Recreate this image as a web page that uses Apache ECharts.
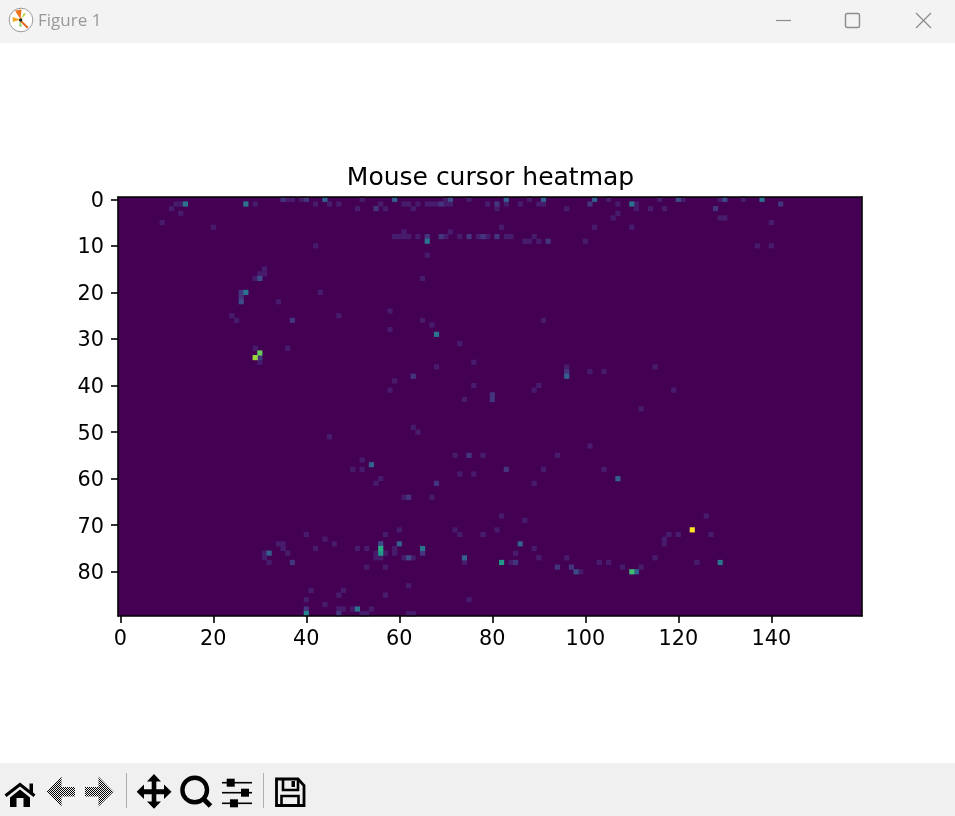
<!DOCTYPE html>
<html>
<head>
<meta charset="utf-8">
<title>Mouse cursor heatmap</title>
<style>html,body{margin:0;padding:0;background:#fff;overflow:hidden}#c{width:955px;height:816px}</style>
<script src="https://cdn.jsdelivr.net/npm/echarts@6/dist/echarts.min.js"></script>
</head>
<body>
<div id="c"></div>
<script>
const chartTitle = 'Mouse cursor heatmap';
const windowTitle = 'Figure 1';
const columnCount = 160;
const rowCount = 90;
const maxCount = 13;
// cells as [column, row], grouped by their count
const cellsCount1 = [
[36,0],[37,0],[39,0],[52,0],[70,0],[75,0],[88,0],[105,0],[116,0],[121,0],[129,0],[134,0],
[12,1],[13,1],[29,1],[42,1],[45,1],[47,1],[56,1],[61,1],[62,1],[64,1],[66,1],[67,1],[68,1],[70,1],[71,1],[79,1],[83,1],[86,1],[90,1],[91,1],[107,1],[111,1],
[11,2],[51,2],[57,2],[63,2],[81,2],[96,2],[111,2],[114,2],[117,2],
[13,3],[107,3],[106,4],[129,4],[130,4],[9,5],[140,5],[20,6],[82,6],[102,6],[110,6],[61,7],[71,7],
[59,8],[60,8],[61,8],[62,8],[64,8],[70,8],[73,8],[77,8],[79,8],[83,8],[84,8],[89,8],
[87,9],[88,9],[90,9],[100,9],[42,10],[137,10],[140,10],[66,12],[31,15],[30,16],[31,16],[29,17],[65,17],
[43,20],[34,22],[58,24],[24,25],[47,25],[25,26],[65,26],[91,26],[67,27],[58,28],[73,31],[29,32],[36,32],
[30,35],[76,35],[68,36],[96,36],[115,36],[101,37],[104,37],[59,39],[76,40],[90,40],[58,41],[89,41],[119,41],[74,43],[112,45]
];
const cellsCount1Lower = [
[63,49],[64,50],[45,51],[101,53],[72,55],[78,55],[94,55],[52,56],[50,58],[52,58],[91,58],[104,58],[73,59],[76,59],[56,60],
[55,61],[89,61],[61,64],[67,64],[82,68],[126,68],[87,69],[60,71],[72,71],[81,71],
[40,72],[57,72],[73,72],[78,72],[118,72],[120,72],[127,72],[44,73],[117,73],[34,74],[35,74],[46,74],[117,74],
[35,75],[42,75],[51,75],[53,75],[59,75],[89,75],[31,76],[36,76],[55,76],[57,76],[59,76],[85,76],
[31,77],[55,77],[56,77],[61,77],[63,77],[90,77],[96,77],[115,77],[32,78],[74,78],[84,78],[103,78],[105,78],[124,78],
[53,79],[57,79],[108,79],[112,79],[99,80],[62,83],[41,84],[48,84],[47,85],[57,85],[40,86],[75,86],[44,87],
[47,88],[48,88],[50,88],[54,88],[52,89],[53,89],[62,89],[63,89]
];
const cellsCount2 = [
[35,0],[40,0],[69,1],[81,1],[101,1],[142,1],[55,2],[128,2],[66,8],[69,8],[75,8],[78,8],[81,8],[92,9],
[26,20],[26,21],[37,26],[30,34],[96,37],[63,38],[80,42],[80,43],[75,55],[83,58],[68,61],[62,64],
[65,76],[37,78],[85,78],[94,79],[97,79],[40,88],[47,89]
];
const cellsCount3 = [[71,0],[120,0],[130,0],[30,17],[26,22],[56,74],[62,77],[98,80]];
const cellsCount4 = [[44,0],[59,0],[83,0],[91,0],[102,0],[96,38],[54,57],[107,60],[60,74],[86,74],[32,76],[74,77],[111,80]];
const cellsCount5 = [[138,0],[14,1],[27,1],[110,1],[66,9],[27,20],[68,29],[65,75],[129,78],[51,88]];
const cellsCount6 = [[40,89]];
const cellsCount7 = [[56,76],[82,78]];
const cellsCount8 = [[56,75]];
const cellsCount9 = [[110,80]];
const cellsCount10 = [[30,33]];
const cellsCount11 = [[29,34]];
const cellsCount13 = [[123,71]];
const viridis = ['#440154','#482475','#414487','#355f8d','#2a788e','#21918c','#22a884','#44bf70','#7ad151','#bddf26','#fde725'];

const countGroups = [
  [1, cellsCount1], [1, cellsCount1Lower], [2, cellsCount2], [3, cellsCount3], [4, cellsCount4],
  [5, cellsCount5], [6, cellsCount6], [7, cellsCount7], [8, cellsCount8], [9, cellsCount9],
  [10, cellsCount10], [11, cellsCount11], [13, cellsCount13]
];
const columns = Array.from({length: columnCount}, (_, i) => String(i));
const rows = Array.from({length: rowCount}, (_, i) => String(i));
// cells with a zero count show the grid's background, which is the colour of zero
const heatData = [];
countGroups.forEach(([n, cells]) => cells.forEach(([c, r]) => heatData.push([c, r, n])));

// ---- window chrome, drawn with graphic elements
const chromeStroke = '#8c8c8c';
const ink = '#000';
const G = [];
const rect = (x, y, w, h, fill, extra) => G.push(Object.assign({type:'rect', silent:true, z:10, shape:{x, y, width:w, height:h}, style:{fill}}, extra||{}));
const line = (x1, y1, x2, y2, stroke, lineWidth) => G.push({type:'line', silent:true, z:11, shape:{x1,y1,x2,y2}, style:{stroke, lineWidth}});
const poly = (points, fill) => G.push({type:'polygon', silent:true, z:11, shape:{points}, style:{fill}});
const circ = (cx, cy, r, fill, stroke, lineWidth) => G.push({type:'circle', silent:true, z:11, shape:{cx,cy,r}, style:{fill, stroke, lineWidth}});

// the toolbar's disabled arrows are a black checker dither
const ditherCanvas = document.createElement('canvas');
ditherCanvas.width = ditherCanvas.height = 2;
const ditherCtx = ditherCanvas.getContext('2d');
ditherCtx.fillStyle = '#000';
ditherCtx.fillRect(0, 0, 1, 1);
ditherCtx.fillRect(1, 1, 1, 1);
const dither = {image: ditherCanvas, repeat: 'repeat'};

rect(0, 0, 955, 43, '#f3f3f3');
rect(0, 763, 955, 53, '#f0f0f0');
// app icon
circ(21, 20, 11.8, '#fff', '#9a9a9a', 1);
poly([[20.5,19.5],[12.5,17],[12.8,22]], '#f5a623');
poly([[20.5,19.5],[15,10.5],[21.5,9.5]], '#f0741f');
poly([[20.5,19.5],[28.5,27],[27,28.5],[19.5,21]], '#e8641b');
poly([[20.5,19.5],[24,13],[26,14]], '#b5d334');
poly([[20,20],[19,26.5],[22,26.5]], '#8fd16a');
circ(20.7, 20, 1.7, '#222');
G.push({type:'text', silent:true, z:11, style:{x:38, y:13, text:windowTitle, fill:'#999999', font:'17px "Open Sans"'}});
// window buttons
line(776, 20.5, 791, 20.5, chromeStroke, 1.2);
rect(845.5, 13.5, 14, 14, 'none', {shape:{x:845.5,y:13.5,width:14,height:14,r:2}, style:{fill:'none', stroke:chromeStroke, lineWidth:1.4}});
line(916, 13, 931, 28, chromeStroke, 1.2);
line(931, 13, 916, 28, chromeStroke, 1.2);
// home
poly([[20,782.5],[29.5,790],[29.5,783.5],[33,783.5],[33,792.5],[35.5,794.5],[33.5,797],[20,786.5],[6.5,797],[4.5,794.5]], ink);
poly([[20,789.5],[30,797.5],[30,807],[23.5,807],[23.5,798],[16.5,798],[16.5,807],[10,807],[10,797.5]], ink);
// back and forward
poly([[46.5,791.7],[61.5,776.5],[61.5,787],[75,787],[75,796.5],[61.5,796.5],[61.5,806.5]], dither);
poly([[113.5,791.7],[98.5,776.5],[98.5,787],[85,787],[85,796.5],[98.5,796.5],[98.5,806.5]], dither);
line(126.5, 773, 126.5, 808, '#b0b0b0', 1);
// move
poly([[154,774],[161,781.5],[156.3,781.5],[156.3,789.2],[164,789.2],[164,784.5],[171.5,791.7],[164,799],[164,794.2],[156.3,794.2],[156.3,801.5],[161,801.5],[154,808.7],[147,801.5],[151.7,801.5],[151.7,794.2],[144,794.2],[144,799],[136.7,791.7],[144,784.5],[144,789.2],[151.7,789.2],[151.7,781.5],[147,781.5]], ink);
// zoom
circ(194.7, 790, 12.3, 'none', ink, 4.4);
line(203.5, 799, 210.5, 806, ink, 5);
// sliders
[[782.7,230.7],[792.7,245],[803.3,234]].forEach(([y, kx]) => {
  line(222, y, 252, y, ink, 1.6);
  rect(kx-4, y-4, 8, 8, ink, {z:12});
});
line(263.5, 773, 263.5, 808, '#b0b0b0', 1);
// save
G.push({type:'polygon', silent:true, z:11, shape:{points:[[276.5,779],[298,779],[304,785.5],[304,805.5],[276.5,805.5]]}, style:{fill:'none', stroke:ink, lineWidth:2.8}});
G.push({type:'polyline', silent:true, z:11, shape:{points:[[283,779],[283,790],[298,790],[298,779]]}, style:{fill:'none', stroke:ink, lineWidth:2.6}});
rect(291.5, 781, 3.5, 6, ink);
G.push({type:'polyline', silent:true, z:11, shape:{points:[[281.5,805],[281.5,796],[298.5,796],[298.5,805]]}, style:{fill:'none', stroke:ink, lineWidth:2.6}});

const font = 'DejaVu Sans';
const spine = {show:true, onZero:false, lineStyle:{color:'#000', width:1.6}};
const chart = echarts.init(document.getElementById('c'), null, {renderer:'canvas'});
chart.setOption({
  animation: false,
  backgroundColor: '#ffffff',
  title: {text: chartTitle, left: 485.5, top: 161, textAlign: 'center',
    textStyle: {fontFamily: font, fontSize: 25, fontWeight: 'normal', color: '#000'}},
  grid: {left: 118, top: 197, width: 744, height: 419, show: true, backgroundColor: viridis[0], borderWidth: 0},
  xAxis: [
    {type:'category', data: columns, position:'bottom', z:5, axisLine: spine,
     axisTick:{show:true, alignWithLabel:true, interval:19, length:7, lineStyle:{color:'#000', width:1.6}},
     axisLabel:{interval:19, margin:13, color:'#000', fontFamily:font, fontSize:20.8},
     splitLine:{show:false}},
    {type:'category', data: columns, position:'top', z:5, axisLine: spine,
     axisTick:{show:false}, axisLabel:{show:false}, splitLine:{show:false}}
  ],
  yAxis: [
    {type:'category', data: rows, inverse:true, position:'left', z:5, axisLine: spine,
     axisTick:{show:true, alignWithLabel:true, interval:9, length:7, lineStyle:{color:'#000', width:1.6}},
     axisLabel:{interval:9, margin:14, formatter:'{t|{value}}',
       rich:{t:{padding:[4,0,0,0], color:'#000', fontFamily:font, fontSize:20.8}},
       color:'#000', fontFamily:font, fontSize:20.8},
     splitLine:{show:false}},
    {type:'category', data: rows, inverse:true, position:'right', z:5, axisLine: spine,
     axisTick:{show:false}, axisLabel:{show:false}, splitLine:{show:false}}
  ],
  visualMap: {show:false, type:'continuous', min:0, max:maxCount, seriesIndex:0, inRange:{color: viridis}},
  series: [{type:'heatmap', data: heatData, xAxisIndex:0, yAxisIndex:0, progressive:0, silent:true, emphasis:{disabled:true}, itemStyle:{borderWidth:0}}],
  graphic: {elements: G}
});
</script>
</body>
</html>
